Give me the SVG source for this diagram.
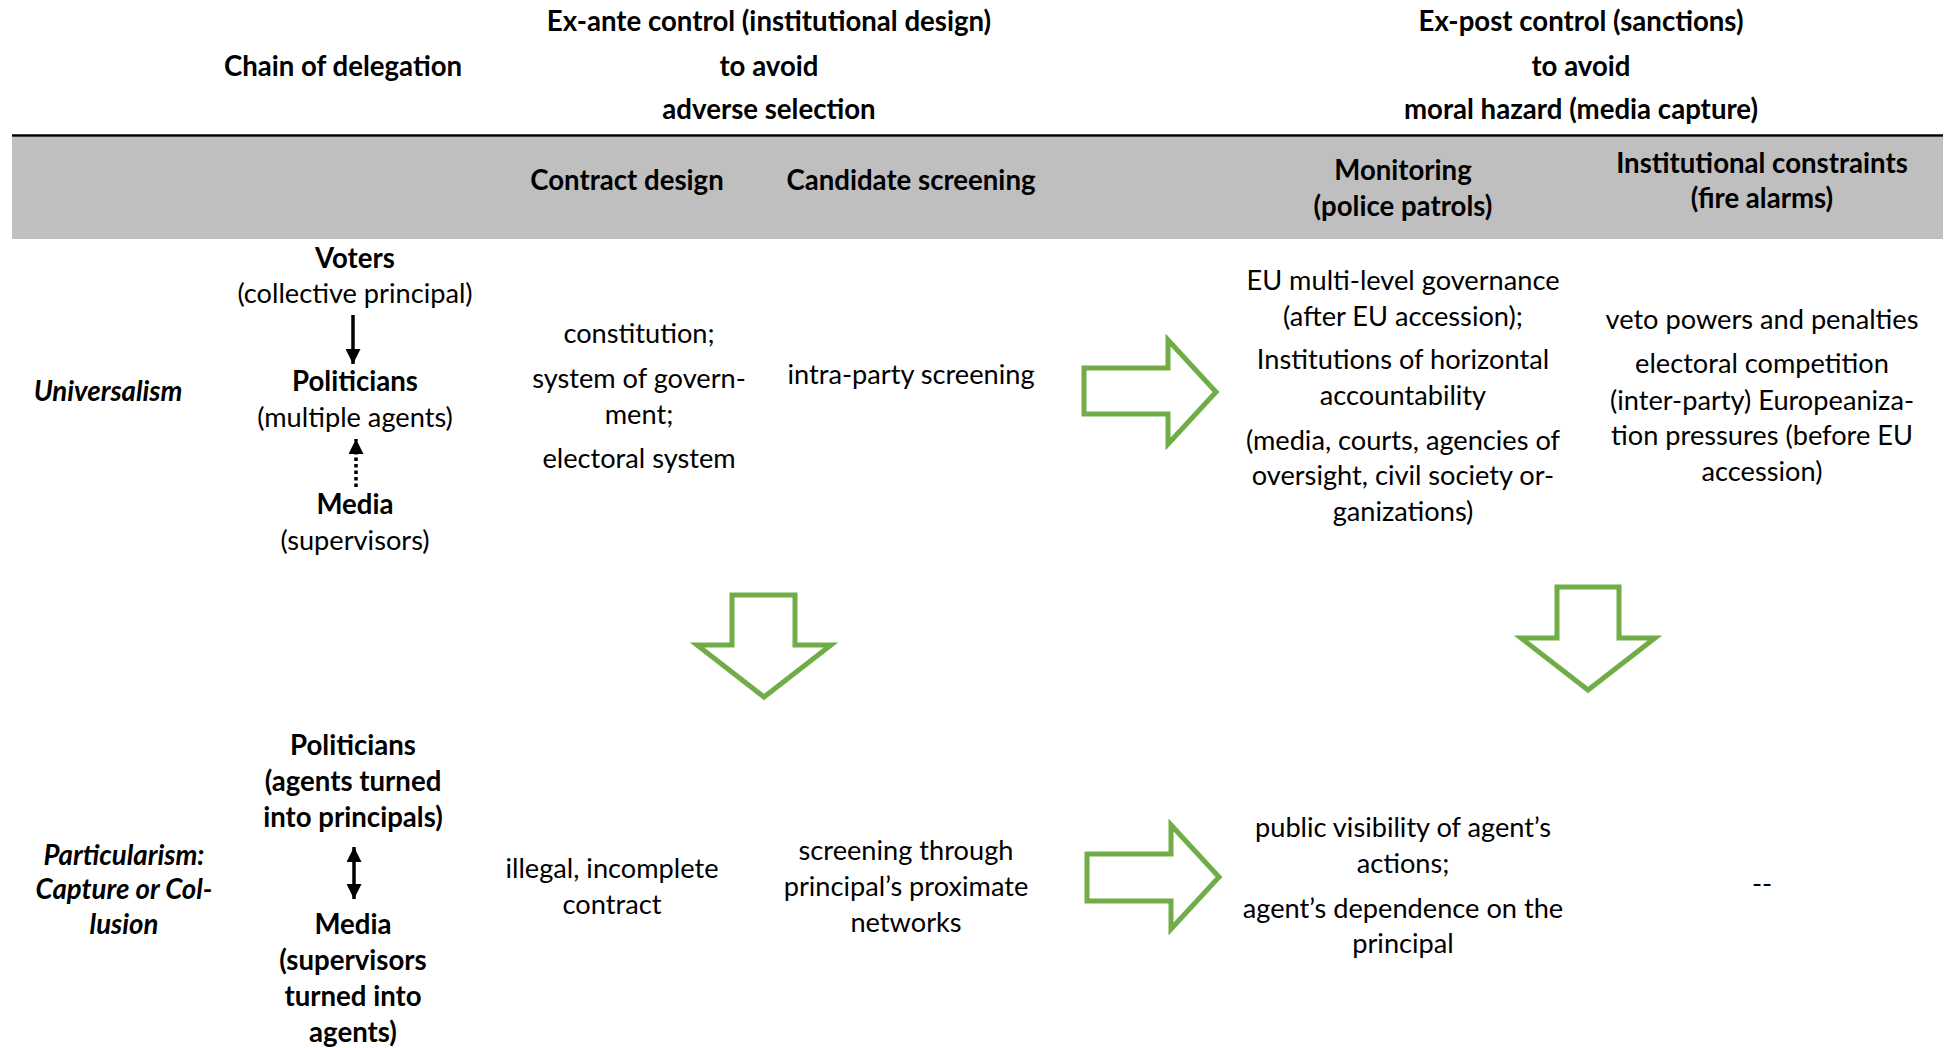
<svg xmlns="http://www.w3.org/2000/svg" width="1948" height="1048" viewBox="0 0 1948 1048">
<defs>
<style>
text{font-family:Lato,"Open Sans","Liberation Sans",sans-serif;font-size:27.2px;fill:#000;text-anchor:middle}
.b{font-weight:bold;font-size:27.6px}
.bi{font-weight:bold;font-style:italic;font-size:27.6px}
.garrow{fill:#fff;stroke:#70ad47;stroke-width:5;stroke-linejoin:miter}
.conn{stroke:#000;stroke-width:3.5;fill:none}
</style>
<marker id="ah" viewBox="0 0 10 10" refX="10" refY="5" markerWidth="15" markerHeight="15" orient="auto-start-reverse" markerUnits="userSpaceOnUse">
<path d="M0,0 L10,5 L0,10 z" fill="#000"/>
</marker>
</defs>
<rect width="1948" height="1048" fill="#fff"/>
<g id="header">
<text class="b" x="343" y="76">Chain of delegation</text>
<text class="b" x="769" y="31">Ex-ante control (institutional design)</text>
<text class="b" x="769" y="76">to avoid</text>
<text class="b" x="769" y="119">adverse selection</text>
<text class="b" x="1581" y="31">Ex-post control (sanctions)</text>
<text class="b" x="1581" y="76">to avoid</text>
<text class="b" x="1581" y="119">moral hazard (media capture)</text>
<rect x="12" y="137" width="1931" height="102" fill="#bfbfbf"/>
<line x1="12" y1="135.5" x2="1943" y2="135.5" stroke="#000" stroke-width="2.5"/>
<text class="b" x="627" y="190">Contract design</text>
<text class="b" x="911" y="190">Candidate screening</text>
<text class="b" x="1403" y="180">Monitoring</text>
<text class="b" x="1403" y="216">(police patrols)</text>
<text class="b" x="1762" y="173">Institutional constraints</text>
<text class="b" x="1762" y="208">(fire alarms)</text>
</g>
<g id="row-universalism">
<text class="bi" x="108" y="401">Universalism</text>
<g id="voters"><text class="b" x="355" y="268">Voters</text><text x="355" y="303">(collective principal)</text></g>
<g id="politicians1"><text class="b" x="355" y="391">Politicians</text><text x="355" y="427">(multiple agents)</text></g>
<g id="media1"><text class="b" x="355" y="514">Media</text><text x="355" y="550">(supervisors)</text></g>
<g id="contract1"><text x="639" y="343">constitution;</text><text x="639" y="388">system of govern-</text><text x="639" y="424">ment;</text><text x="639" y="468">electoral system</text></g>
<g id="screening1"><text x="911" y="384">intra-party screening</text></g>
<g id="monitoring1">
<text x="1403" y="290">EU multi-level governance</text>
<text x="1403" y="326">(after EU accession);</text>
<text x="1403" y="369">Institutions of horizontal</text>
<text x="1403" y="405">accountability</text>
<text x="1403" y="450">(media, courts, agencies of</text>
<text x="1403" y="485">oversight, civil society or-</text>
<text x="1403" y="521">ganizations)</text>
</g>
<g id="constraints1">
<text x="1762" y="329">veto powers and penalties</text>
<text x="1762" y="373">electoral competition</text>
<text x="1762" y="410">(inter-party) Europeaniza-</text>
<text x="1762" y="445">tion pressures (before EU</text>
<text x="1762" y="481">accession)</text>
</g>
</g>
<g id="row-particularism">
<g id="particularism"><text class="bi" x="124" y="865">Particularism:</text><text class="bi" x="124" y="899">Capture or Col-</text><text class="bi" x="124" y="934">lusion</text></g>
<g id="politicians2"><text class="b" x="353" y="755">Politicians</text><text class="b" x="353" y="791">(agents turned</text><text class="b" x="353" y="827">into principals)</text></g>
<g id="media2"><text class="b" x="353" y="934">Media</text><text class="b" x="353" y="970">(supervisors</text><text class="b" x="353" y="1006">turned into</text><text class="b" x="353" y="1042">agents)</text></g>
<g id="contract2"><text x="612" y="878">illegal, incomplete</text><text x="612" y="914">contract</text></g>
<g id="screening2"><text x="906" y="860">screening through</text><text x="906" y="896">principal’s proximate</text><text x="906" y="932">networks</text></g>
<g id="monitoring2"><text x="1403" y="837">public visibility of agent’s</text><text x="1403" y="873">actions;</text><text x="1403" y="918">agent’s dependence on the</text><text x="1403" y="953">principal</text></g>
<g id="constraints2"><text x="1762" y="893">--</text></g>
</g>
<g id="connectors">
<line class="conn" x1="353" y1="315" x2="353" y2="364" marker-end="url(#ah)"/>
<line class="conn" x1="356" y1="487" x2="356" y2="439" stroke-dasharray="3.5,3" marker-end="url(#ah)"/>
<line class="conn" x1="354" y1="847" x2="354" y2="899" marker-start="url(#ah)" marker-end="url(#ah)"/>
<polygon class="garrow" points="1084,368 1168,368 1168,340 1216,392 1168,444 1168,414 1084,414"/>
<polygon class="garrow" points="1087,854 1171,854 1171,825 1219,877 1171,929 1171,901 1087,901"/>
<polygon class="garrow" points="732,595 795,595 795,645 831,645 764,697 697,645 732,645"/>
<polygon class="garrow" points="1557,587 1619,587 1619,638 1655,638 1588,690 1521,638 1557,638"/>
</g>
</svg>
